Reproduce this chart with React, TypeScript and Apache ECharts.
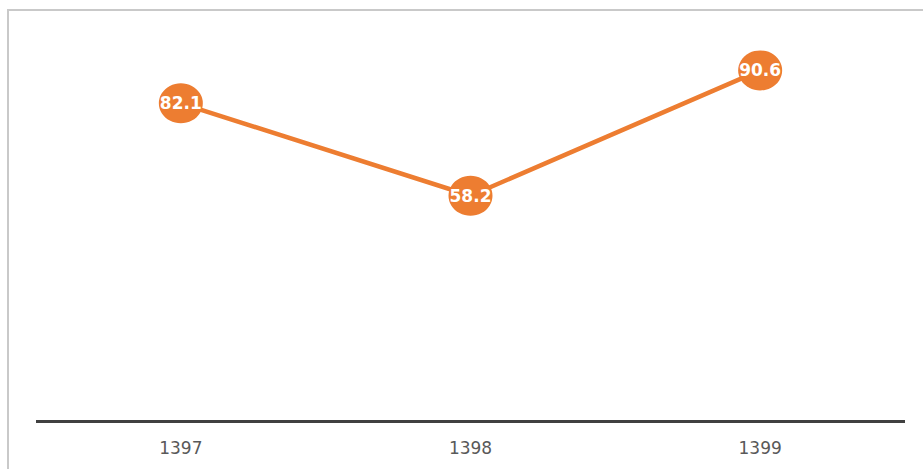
import React, { useEffect, useRef } from "react";
import * as echarts from "echarts";

const categories = ["1397", "1398", "1399"];
const values = [82.1, 58.2, 90.6];
const yMin = 0;
const yMax = 100;

export default function App() {
  const ref = useRef<HTMLDivElement>(null);
  useEffect(() => {
    if (!ref.current) return;
    const chart = echarts.init(ref.current, null, { renderer: "svg" });
    chart.setOption({
      animation: false,
      backgroundColor: "#ffffff",
      graphic: [
        {
          type: "rect",
          shape: { x: 8, y: 10, width: 1000, height: 1000 },
          style: { fill: "none", stroke: "#c9c9c9", lineWidth: 2 },
          silent: true,
          z: -1,
        },
      ],
      grid: { left: 36, right: 18, top: 34, bottom: 48 },
      xAxis: {
        type: "category",
        data: categories,
        boundaryGap: true,
        axisLine: { show: true, lineStyle: { color: "#404040", width: 3, cap: "butt" } },
        axisTick: { show: false },
        axisLabel: {
          color: "#595959",
          fontSize: 17,
          fontFamily: "DejaVu Sans",
          margin: 18,
        },
      },
      yAxis: {
        type: "value",
        min: yMin,
        max: yMax,
        show: false,
        splitLine: { show: false },
      },
      series: [
        {
          type: "line",
          data: values,
          symbol: "circle",
          symbolSize: [44, 40],
          itemStyle: { color: "#ED7D31" },
          lineStyle: { color: "#ED7D31", width: 4.5 },
          label: {
            show: true,
            position: "inside",
            color: "#ffffff",
            fontSize: 17,
            fontWeight: "bold",
            fontFamily: "DejaVu Sans",
            formatter: (p: any) => p.value.toFixed(1),
          },
        },
      ],
    });
    return () => chart.dispose();
  }, []);
  return (
    <div
      ref={ref}
      style={{ position: "fixed", left: 0, top: 0, width: 923, height: 469 }}
    />
  );
}
